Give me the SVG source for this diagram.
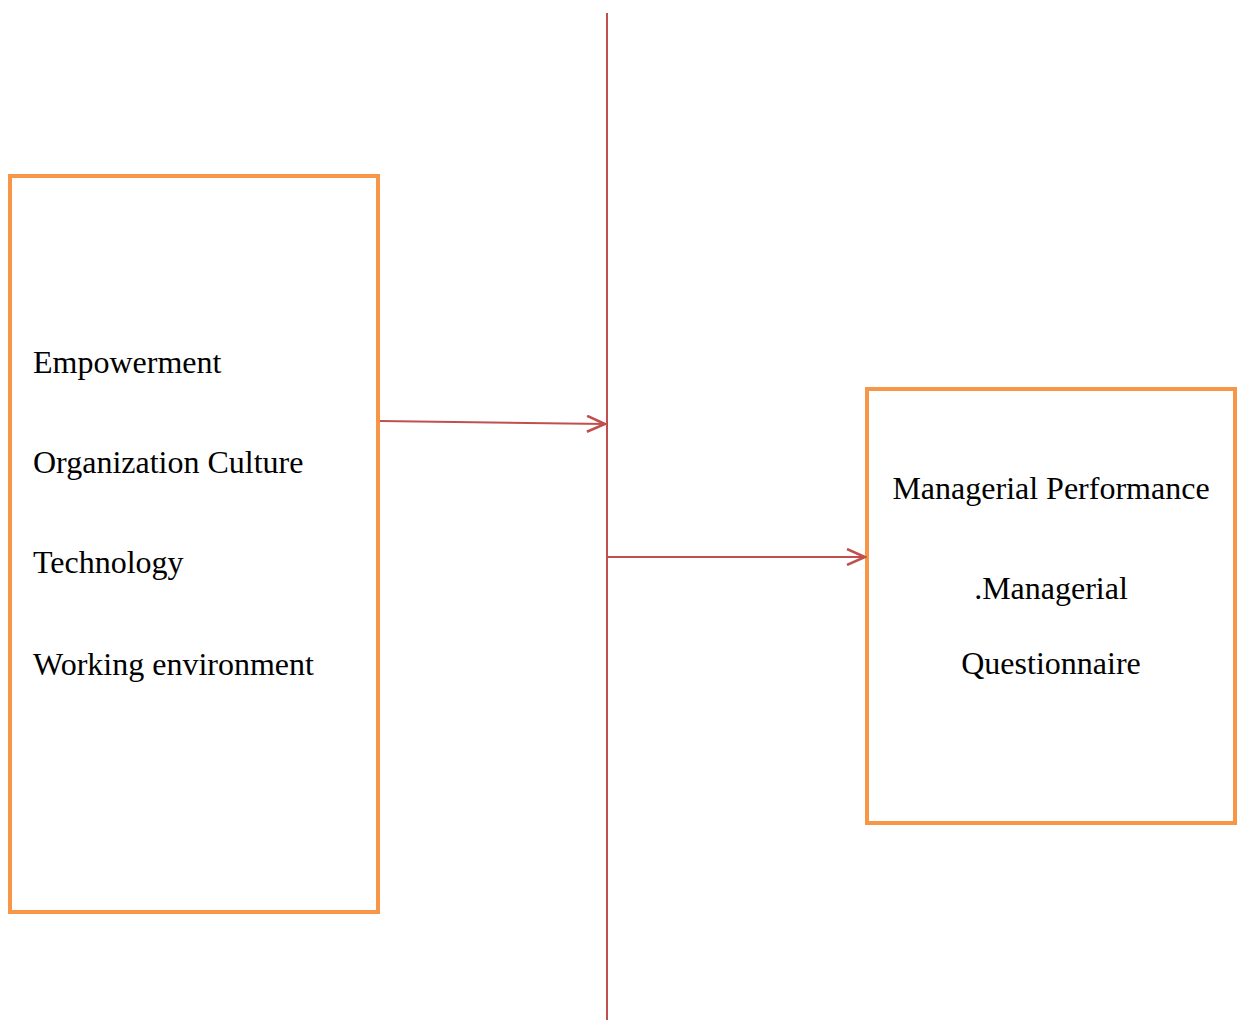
<svg xmlns="http://www.w3.org/2000/svg" width="1245" height="1020" viewBox="0 0 1245 1020">
<style>
.box{fill:#fff;stroke:#F79646;stroke-width:4}
.t{font-family:"Liberation Serif","Times New Roman",serif;font-size:32px;fill:#000}
.c{stroke:#C0504D;stroke-width:2;fill:none}
</style>
<defs>
<marker id="ah" markerWidth="22" markerHeight="18" refX="20" refY="9" orient="auto" markerUnits="userSpaceOnUse">
<path d="M2,1 L20,9 L2,17" fill="none" stroke="#C0504D" stroke-width="2.5"/>
</marker>
</defs>
<rect width="1245" height="1020" fill="#fff"/>
<g id="left-box">
<rect class="box" x="10" y="176" width="368" height="736"/>
<text class="t" x="33" y="373">Empowerment</text>
<text class="t" x="33" y="473">Organization Culture</text>
<text class="t" x="33" y="573">Technology</text>
<text class="t" x="33" y="675">Working environment</text>
</g>
<g id="right-box">
<rect class="box" x="867" y="389" width="368" height="434"/>
<text class="t" x="1051" y="499" text-anchor="middle">Managerial Performance</text>
<text class="t" x="1051" y="599" text-anchor="middle">.Managerial</text>
<text class="t" x="1051" y="674" text-anchor="middle">Questionnaire</text>
</g>
<g id="connectors">
<line class="c" x1="607" y1="13" x2="607" y2="1020"/>
<line class="c" x1="380" y1="421" x2="605" y2="424" marker-end="url(#ah)"/>
<line class="c" x1="608" y1="557" x2="865" y2="557" marker-end="url(#ah)"/>
</g>
</svg>
